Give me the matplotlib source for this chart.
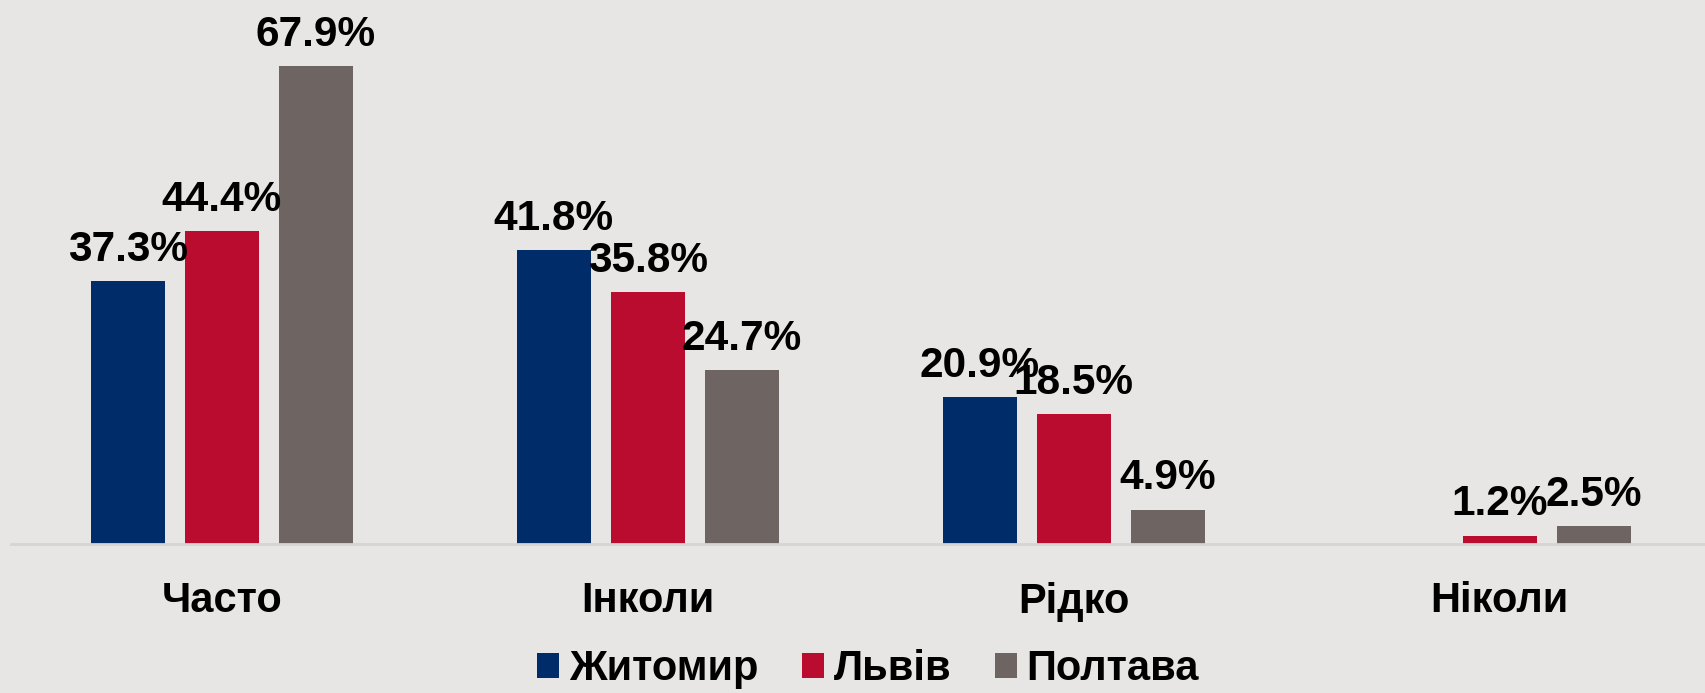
import matplotlib
matplotlib.use('Agg')
import matplotlib.pyplot as plt
from matplotlib.patches import Patch
import numpy as np

categories = ['Часто', 'Інколи', 'Рідко', 'Ніколи']
cities = ['Житомир', 'Львів', 'Полтава']
zhytomyr = [37.3, 41.8, 20.9, 0.0]
lviv = [44.4, 35.8, 18.5, 1.2]
poltava = [67.9, 24.7, 4.9, 2.5]

colors = ['#002D6A', '#B90C2F', '#6E6563']
bg = '#E7E6E5'

plt.rcParams['font.family'] = ['Liberation Sans', 'DejaVu Sans']

fig = plt.figure(figsize=(17.06, 6.93), dpi=100, facecolor=bg)
ax = fig.add_axes([11 / 1706, 149 / 693, 1 - 11 / 1706, 0.711])
ax.set_facecolor(bg)

x = np.arange(len(categories))
width = 0.174
offset = 0.2207
series = [zhytomyr, lviv, poltava]
for i, (vals, col) in enumerate(zip(series, colors)):
    pos = x + (i - 1) * offset
    bars = ax.bar(pos, vals, width=width, color=col)
    # no label for empty bars
    labels = [f'{v:.1f}%' if v > 0 else '' for v in vals]
    ax.bar_label(bars, labels=labels, padding=8, fontsize=30.5,
                 fontweight='bold', color='black')

ax.set_xlim(-0.495, 3.484)
ax.set_ylim(0, 70)
ax.set_yticks([])
ax.set_xticks(x)
ax.set_xticklabels(categories, fontsize=30, fontweight='bold')
ax.tick_params(axis='x', length=0, pad=27)
for s in ['top', 'left', 'right']:
    ax.spines[s].set_visible(False)
ax.spines['bottom'].set_color('#D6D5D4')
ax.spines['bottom'].set_linewidth(2)

handles = [Patch(facecolor=c, edgecolor='none') for c in colors]
fig.legend(handles, cities, loc='center', bbox_to_anchor=(868 / 1706, 1 - 669 / 693),
           ncol=3, frameon=False, handlelength=0.53, handleheight=0.53,
           handletextpad=0.24, columnspacing=1.04,
           prop={'family': ['Liberation Sans', 'DejaVu Sans'],
                 'weight': 'bold', 'size': 30})

fig.savefig('out.png', dpi=100, facecolor=bg)
